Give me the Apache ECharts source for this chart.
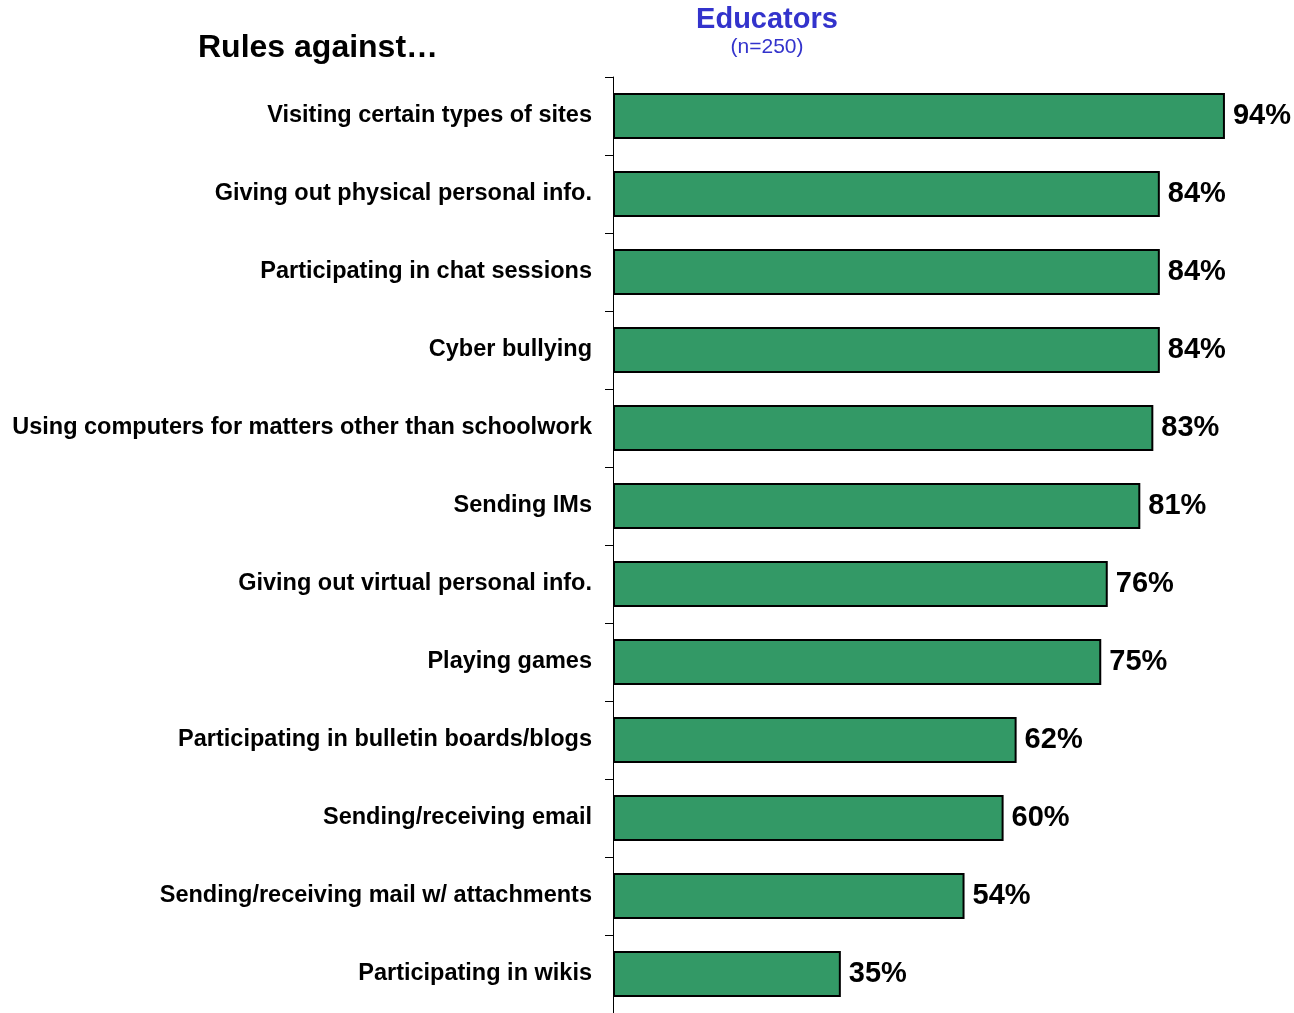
<!DOCTYPE html>
<html>
<head>
<meta charset="utf-8">
<script src="https://cdn.jsdelivr.net/npm/echarts@6/dist/echarts.min.js"></script>
<style>
  html, body { margin: 0; padding: 0; background: #fff; }
  #chart { width: 1294px; height: 1013px; }
</style>
</head>
<body>
<div id="chart"></div>
<script>
// Rules against various online activities, share of educators (n=250)
const categories = [
  'Visiting certain types of sites',
  'Giving out physical personal info.',
  'Participating in chat sessions',
  'Cyber bullying',
  'Using computers for matters other than schoolwork',
  'Sending IMs',
  'Giving out virtual personal info.',
  'Playing games',
  'Participating in bulletin boards/blogs',
  'Sending/receiving email',
  'Sending/receiving mail w/ attachments',
  'Participating in wikis'
];
const educators = [94, 84, 84, 84, 83, 81, 76, 75, 62, 60, 54, 35];

const chart = echarts.init(document.getElementById('chart'));
chart.setOption({
  animation: false,
  backgroundColor: '#ffffff',
  title: [
    {
      text: 'Rules against…',
      left: 193, top: 27,
      textStyle: { fontFamily: 'Liberation Sans, Arial', fontWeight: 'bold', fontSize: 32, color: '#000' }
    },
    {
      text: 'Educators',
      subtext: '(n=250)',
      left: 762, top: 0, textAlign: 'center',
      itemGap: 3,
      textStyle: { fontFamily: 'Liberation Sans, Arial', fontWeight: 'bold', fontSize: 29, color: '#3333CC' },
      subtextStyle: { fontFamily: 'Liberation Sans, Arial', fontSize: 21, color: '#3333CC' }
    }
  ],
  grid: { left: 613, top: 77, right: 30, bottom: 0, containLabel: false },
  xAxis: {
    type: 'value', min: 0, max: 100,
    show: false
  },
  yAxis: {
    type: 'category',
    data: categories,
    inverse: true,
    axisLine: { show: true, lineStyle: { color: '#000', width: 1 } },
    axisTick: { show: true, length: 8, lineStyle: { color: '#000', width: 1 } },
    axisLabel: {
      margin: 21,
      padding: [4, 0, 0, 0],
      color: '#000',
      fontFamily: 'Liberation Sans, Arial',
      fontWeight: 'bold',
      fontSize: 23.5
    },
    splitLine: { show: false }
  },
  series: [{
    type: 'bar',
    data: educators,
    barWidth: '59%',
    itemStyle: { color: '#339966', borderColor: '#000', borderWidth: 2 },
    label: {
      show: true,
      position: 'right',
      distance: 8,
      formatter: '{c}%',
      color: '#000',
      fontFamily: 'Liberation Sans, Arial',
      fontWeight: 'bold',
      fontSize: 29
    }
  }]
});
</script>
</body>
</html>
